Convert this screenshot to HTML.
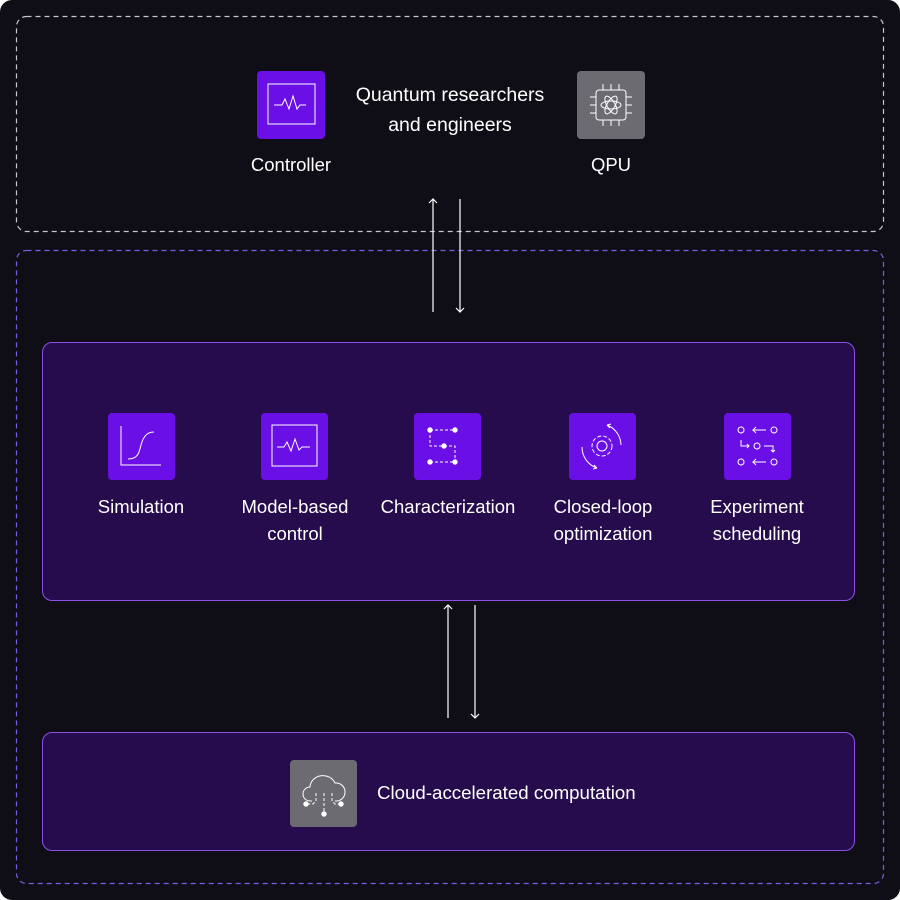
<!DOCTYPE html>
<html><head><style>
body{margin:0;background:#fff;}
.c{position:relative;width:900px;height:900px;background:#0f0e17;border-radius:12px;overflow:hidden;font-family:"Liberation Sans",sans-serif;color:#fff;}
.a{position:absolute}
.t{position:absolute;width:68px;height:68px;border-radius:4px;background:#6a0fe6}
.g{background:#6d6b72}
.l{position:absolute;font-size:18.5px;text-align:center;line-height:27px;width:180px}
.box{position:absolute;background:#260c4d;border:1.5px solid #8c50e6;border-radius:10px;box-sizing:border-box}
</style></head><body><div class="c">
<svg class="a" style="left:0;top:0" width="900" height="900">
<rect x="16.5" y="16.5" width="867" height="215" rx="10" fill="none" stroke="#c8c8cc" stroke-width="1.2" stroke-dasharray="5 4"/>
<rect x="16.5" y="250.5" width="867" height="633" rx="10" fill="none" stroke="#7b5ce0" stroke-width="1.2" stroke-dasharray="5 4"/>
</svg>
<div class="box" style="left:42px;top:342px;width:813px;height:259px"></div>
<div class="box" style="left:42px;top:732px;width:813px;height:119px"></div>
<svg class="a" style="left:0;top:0" width="900" height="900" fill="none" stroke="#fff" stroke-width="1.2">
<path d="M433 312V199M429 203l4-4 4 4"/>
<path d="M460 199V312M456 308l4 4 4-4"/>
<path d="M448 718V605M444 609l4-4 4 4"/>
<path d="M475 605V718M471 714l4 4 4-4"/>
</svg>
<div class="t" style="left:257px;top:71px"><svg width="68" height="68" fill="none" stroke="#fff" stroke-width="1"><rect x="11" y="13" width="47" height="40"/><path d="M17 34h8l3-6 4 10 4-13 4 13 3-4h6"/></svg></div>
<div class="t g" style="left:577px;top:71px"><svg width="68" height="68" fill="none" stroke="#fff" stroke-width="1"><rect x="19" y="19" width="30" height="30" rx="3"/><path d="M26 13v6M34 13v6M42 13v6M26 49v6M34 49v6M42 49v6M13 26h6M13 34h6M13 42h6M49 26h6M49 34h6M49 42h6"/><ellipse cx="34" cy="34" rx="10" ry="4" transform="rotate(60 34 34)"/><ellipse cx="34" cy="34" rx="10" ry="4" transform="rotate(-60 34 34)"/><ellipse cx="34" cy="34" rx="10" ry="4"/></svg></div>
<div class="l" style="left:201px;top:151px">Controller</div>
<div class="l" style="left:521px;top:151px">QPU</div>
<div class="l" style="left:320px;top:80px;width:260px;font-size:19.5px;line-height:30px">Quantum researchers<br>and engineers</div>
<div class="t" style="left:108px;top:413px;width:67px;height:67px"><svg width="67" height="67" fill="none" stroke="#fff" stroke-width="1"><path d="M13 13v39h40"/><path d="M20 46c10 0 11-6 13-14 3-11 8-13 13-13"/></svg></div>
<div class="t" style="left:261px;top:413px;width:67px;height:67px"><svg width="67" height="67" fill="none" stroke="#fff" stroke-width="1"><rect x="11" y="12" width="45" height="41"/><path d="M16 34h7l3-5 4 9 4-12 4 11 3-3h8"/></svg></div>
<div class="t" style="left:414px;top:413px;width:67px;height:67px"><svg width="67" height="67" fill="#fff" stroke="#fff" stroke-width="1"><g fill="none" stroke-dasharray="3 2"><path d="M16 17h25M16 17v16h25v16M16 49h25"/></g><circle cx="16" cy="17" r="2.2"/><circle cx="41" cy="17" r="2.2"/><circle cx="30" cy="33" r="2.2"/><circle cx="16" cy="49" r="2.2"/><circle cx="41" cy="49" r="2.2"/></svg></div>
<div class="t" style="left:569px;top:413px;width:67px;height:67px"><svg width="67" height="67" fill="none" stroke="#fff" stroke-width="1"><circle cx="33" cy="33" r="5"/><circle cx="33" cy="33" r="10" stroke-dasharray="4 2"/><path d="M38 12a22 22 0 0 1 14 20M28 55a22 22 0 0 1-15-21M38 12l4-1M38 12l3 3M28 55l-3-3M28 55l-4 1"/></svg></div>
<div class="t" style="left:724px;top:413px;width:67px;height:67px"><svg width="67" height="67" fill="none" stroke="#fff" stroke-width="1"><circle cx="17" cy="17" r="3"/><circle cx="50" cy="17" r="3"/><circle cx="33" cy="33" r="3"/><circle cx="17" cy="49" r="3"/><circle cx="50" cy="49" r="3"/><path d="M42 17h-13l3-3M29 17l3 3M42 49h-13l3-3M29 49l3 3M17 27v6h8M23 31l2 2-2 2M40 33h9v6M47 37l2 2 2-2"/></svg></div>
<div class="l" style="left:51px;top:493px">Simulation</div>
<div class="l" style="left:205px;top:493px">Model-based<br>control</div>
<div class="l" style="left:358px;top:493px">Characterization</div>
<div class="l" style="left:513px;top:493px">Closed-loop<br>optimization</div>
<div class="l" style="left:667px;top:493px">Experiment<br>scheduling</div>
<div class="t g" style="left:290px;top:760px;width:67px;height:67px"><svg width="67" height="67" fill="none" stroke="#fff" stroke-width="1"><path d="M22 41h-2a7 7 0 0 1 0-14 13 12 0 0 1 25-4 9 9 0 0 1 2 18h-2"/><path d="M26 33v8l-3 3h-6M34 33v22M42 33v8l3 3h6" stroke-dasharray="3 2"/><circle cx="16" cy="44" r="2.2" fill="#fff"/><circle cx="51" cy="44" r="2.2" fill="#fff"/><circle cx="34" cy="54" r="2.2" fill="#fff"/></svg></div>
<div class="a" style="left:377px;top:782px;font-size:18.7px">Cloud-accelerated computation</div>
</div></body></html>
